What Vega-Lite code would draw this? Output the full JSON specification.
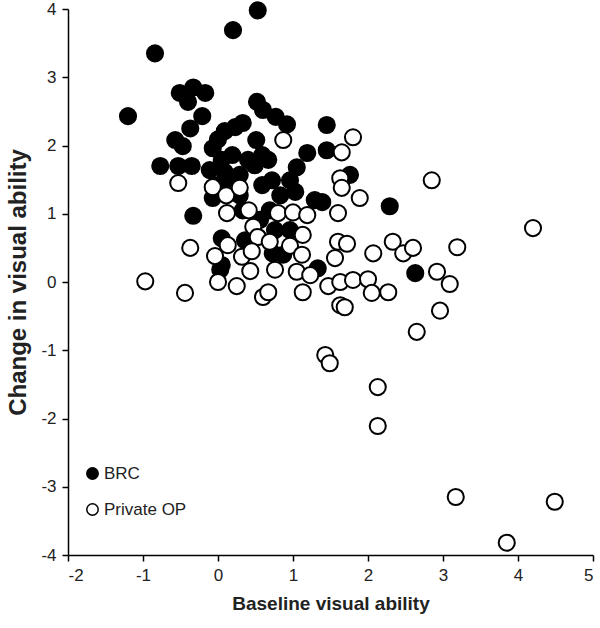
{
  "$schema": "https://vega.github.io/schema/vega-lite/v6.json",
  "width": 525,
  "height": 546,
  "autosize": {"type": "none"},
  "padding": {"left": 68, "top": 9, "right": 7, "bottom": 73},
  "background": "white",
  "config": {
    "view": {"stroke": null},
    "font": "Liberation Sans",
    "axis": {
      "grid": false,
      "domainColor": "black",
      "domainWidth": 1.5,
      "tickColor": "black",
      "tickWidth": 1.5,
      "tickSize": 6,
      "labelFont": "Liberation Sans",
      "labelFontSize": 17,
      "labelColor": "#222",
      "labelPadding": 6,
      "labelExpr": "'' + datum.value",
      "titleFont": "Liberation Sans",
      "titleFontWeight": "bold",
      "titleColor": "#222"
    }
  },
  "data": {
    "values": [
      {"x": 0.53, "y": 3.98, "g": "BRC"},
      {"x": 0.20, "y": 3.69, "g": "BRC"},
      {"x": -0.84, "y": 3.35, "g": "BRC"},
      {"x": -1.20, "y": 2.43, "g": "BRC"},
      {"x": -0.51, "y": 2.77, "g": "BRC"},
      {"x": -0.33, "y": 2.85, "g": "BRC"},
      {"x": -0.17, "y": 2.77, "g": "BRC"},
      {"x": -0.40, "y": 2.64, "g": "BRC"},
      {"x": -0.21, "y": 2.43, "g": "BRC"},
      {"x": -0.37, "y": 2.25, "g": "BRC"},
      {"x": -0.57, "y": 2.08, "g": "BRC"},
      {"x": -0.47, "y": 1.99, "g": "BRC"},
      {"x": -0.77, "y": 1.70, "g": "BRC"},
      {"x": -0.53, "y": 1.70, "g": "BRC"},
      {"x": -0.35, "y": 1.70, "g": "BRC"},
      {"x": -0.33, "y": 0.97, "g": "BRC"},
      {"x": 0.52, "y": 2.64, "g": "BRC"},
      {"x": 0.60, "y": 2.52, "g": "BRC"},
      {"x": 0.77, "y": 2.42, "g": "BRC"},
      {"x": 0.92, "y": 2.31, "g": "BRC"},
      {"x": 0.33, "y": 2.33, "g": "BRC"},
      {"x": 0.23, "y": 2.27, "g": "BRC"},
      {"x": 0.09, "y": 2.21, "g": "BRC"},
      {"x": 0.00, "y": 2.09, "g": "BRC"},
      {"x": -0.07, "y": 1.96, "g": "BRC"},
      {"x": 0.51, "y": 2.08, "g": "BRC"},
      {"x": 1.45, "y": 2.30, "g": "BRC"},
      {"x": 1.45, "y": 1.93, "g": "BRC"},
      {"x": 1.19, "y": 1.89, "g": "BRC"},
      {"x": 1.05, "y": 1.68, "g": "BRC"},
      {"x": 0.96, "y": 1.49, "g": "BRC"},
      {"x": 1.76, "y": 1.57, "g": "BRC"},
      {"x": 0.19, "y": 1.86, "g": "BRC"},
      {"x": 0.05, "y": 1.79, "g": "BRC"},
      {"x": 0.40, "y": 1.79, "g": "BRC"},
      {"x": 0.59, "y": 1.86, "g": "BRC"},
      {"x": 0.67, "y": 1.79, "g": "BRC"},
      {"x": -0.11, "y": 1.64, "g": "BRC"},
      {"x": 0.09, "y": 1.61, "g": "BRC"},
      {"x": 0.29, "y": 1.57, "g": "BRC"},
      {"x": 0.49, "y": 1.71, "g": "BRC"},
      {"x": 0.00, "y": 1.42, "g": "BRC"},
      {"x": 0.16, "y": 1.42, "g": "BRC"},
      {"x": -0.07, "y": 1.23, "g": "BRC"},
      {"x": 0.29, "y": 1.27, "g": "BRC"},
      {"x": 0.59, "y": 1.42, "g": "BRC"},
      {"x": 0.72, "y": 1.49, "g": "BRC"},
      {"x": 0.83, "y": 1.27, "g": "BRC"},
      {"x": 1.03, "y": 1.32, "g": "BRC"},
      {"x": 0.33, "y": 1.05, "g": "BRC"},
      {"x": 0.56, "y": 0.91, "g": "BRC"},
      {"x": 0.69, "y": 1.05, "g": "BRC"},
      {"x": 0.05, "y": 0.64, "g": "BRC"},
      {"x": 0.36, "y": 0.61, "g": "BRC"},
      {"x": 0.53, "y": 0.66, "g": "BRC"},
      {"x": 0.76, "y": 0.76, "g": "BRC"},
      {"x": 0.96, "y": 0.76, "g": "BRC"},
      {"x": 0.03, "y": 0.18, "g": "BRC"},
      {"x": 0.05, "y": 0.25, "g": "BRC"},
      {"x": 0.73, "y": 0.42, "g": "BRC"},
      {"x": 0.87, "y": 0.40, "g": "BRC"},
      {"x": 1.33, "y": 0.20, "g": "BRC"},
      {"x": 1.29, "y": 1.20, "g": "BRC"},
      {"x": 1.39, "y": 1.17, "g": "BRC"},
      {"x": 2.29, "y": 1.11, "g": "BRC"},
      {"x": 2.63, "y": 0.13, "g": "BRC"},
      {"x": -0.97, "y": 0.01, "g": "Private OP"},
      {"x": -0.44, "y": -0.16, "g": "Private OP"},
      {"x": -0.37, "y": 0.50, "g": "Private OP"},
      {"x": -0.53, "y": 1.45, "g": "Private OP"},
      {"x": -0.07, "y": 1.39, "g": "Private OP"},
      {"x": 0.11, "y": 1.27, "g": "Private OP"},
      {"x": 0.29, "y": 1.38, "g": "Private OP"},
      {"x": 0.12, "y": 1.01, "g": "Private OP"},
      {"x": 0.41, "y": 1.05, "g": "Private OP"},
      {"x": 0.80, "y": 1.01, "g": "Private OP"},
      {"x": 1.00, "y": 1.02, "g": "Private OP"},
      {"x": 1.19, "y": 0.98, "g": "Private OP"},
      {"x": 1.60, "y": 1.01, "g": "Private OP"},
      {"x": 0.87, "y": 2.08, "g": "Private OP"},
      {"x": 1.80, "y": 2.12, "g": "Private OP"},
      {"x": 1.65, "y": 1.90, "g": "Private OP"},
      {"x": 1.63, "y": 1.52, "g": "Private OP"},
      {"x": 1.65, "y": 1.38, "g": "Private OP"},
      {"x": 1.89, "y": 1.23, "g": "Private OP"},
      {"x": 2.85, "y": 1.49, "g": "Private OP"},
      {"x": 4.20, "y": 0.79, "g": "Private OP"},
      {"x": 0.47, "y": 0.81, "g": "Private OP"},
      {"x": 0.53, "y": 0.66, "g": "Private OP"},
      {"x": 0.69, "y": 0.59, "g": "Private OP"},
      {"x": 0.13, "y": 0.54, "g": "Private OP"},
      {"x": -0.04, "y": 0.38, "g": "Private OP"},
      {"x": 0.32, "y": 0.37, "g": "Private OP"},
      {"x": 0.45, "y": 0.45, "g": "Private OP"},
      {"x": 0.96, "y": 0.53, "g": "Private OP"},
      {"x": 1.13, "y": 0.69, "g": "Private OP"},
      {"x": 1.12, "y": 0.40, "g": "Private OP"},
      {"x": 1.60, "y": 0.59, "g": "Private OP"},
      {"x": 1.72, "y": 0.56, "g": "Private OP"},
      {"x": 1.56, "y": 0.35, "g": "Private OP"},
      {"x": 2.07, "y": 0.42, "g": "Private OP"},
      {"x": 2.33, "y": 0.59, "g": "Private OP"},
      {"x": 2.47, "y": 0.42, "g": "Private OP"},
      {"x": 2.60, "y": 0.50, "g": "Private OP"},
      {"x": 3.19, "y": 0.51, "g": "Private OP"},
      {"x": 0.43, "y": 0.16, "g": "Private OP"},
      {"x": 0.76, "y": 0.18, "g": "Private OP"},
      {"x": 1.05, "y": 0.15, "g": "Private OP"},
      {"x": 1.23, "y": 0.10, "g": "Private OP"},
      {"x": 0.00, "y": 0.00, "g": "Private OP"},
      {"x": 0.25, "y": -0.06, "g": "Private OP"},
      {"x": 0.60, "y": -0.22, "g": "Private OP"},
      {"x": 0.67, "y": -0.15, "g": "Private OP"},
      {"x": 1.13, "y": -0.15, "g": "Private OP"},
      {"x": 1.47, "y": -0.06, "g": "Private OP"},
      {"x": 1.63, "y": 0.00, "g": "Private OP"},
      {"x": 1.80, "y": 0.03, "g": "Private OP"},
      {"x": 2.00, "y": 0.04, "g": "Private OP"},
      {"x": 2.05, "y": -0.16, "g": "Private OP"},
      {"x": 2.27, "y": -0.15, "g": "Private OP"},
      {"x": 1.63, "y": -0.34, "g": "Private OP"},
      {"x": 1.69, "y": -0.37, "g": "Private OP"},
      {"x": 2.92, "y": 0.15, "g": "Private OP"},
      {"x": 3.09, "y": -0.03, "g": "Private OP"},
      {"x": 2.96, "y": -0.42, "g": "Private OP"},
      {"x": 2.65, "y": -0.73, "g": "Private OP"},
      {"x": 1.43, "y": -1.07, "g": "Private OP"},
      {"x": 1.49, "y": -1.19, "g": "Private OP"},
      {"x": 2.13, "y": -1.54, "g": "Private OP"},
      {"x": 2.13, "y": -2.11, "g": "Private OP"},
      {"x": 3.17, "y": -3.15, "g": "Private OP"},
      {"x": 4.49, "y": -3.22, "g": "Private OP"},
      {"x": 3.85, "y": -3.82, "g": "Private OP"}
    ]
  },
  "mark": {"type": "point", "shape": "circle", "filled": true, "size": 260, "stroke": "black", "strokeWidth": 2, "opacity": 1},
  "encoding": {
    "x": {
      "field": "x", "type": "quantitative",
      "scale": {"domain": [-2, 5], "nice": false, "zero": false},
      "axis": {"title": "Baseline visual ability", "titleFontSize": 19, "values": [-2, -1, 0, 1, 2, 3, 4, 5], "titlePadding": 11}
    },
    "y": {
      "field": "y", "type": "quantitative",
      "scale": {"domain": [-4, 4], "nice": false, "zero": false},
      "axis": {"title": "Change in visual ability", "titleFontSize": 24, "values": [-4, -3, -2, -1, 0, 1, 2, 3, 4], "titlePadding": 10}
    },
    "fill": {
      "field": "g", "type": "nominal",
      "scale": {"domain": ["BRC", "Private OP"], "range": ["black", "white"]},
      "legend": {
        "title": null,
        "orient": "none",
        "legendX": 16,
        "legendY": 456,
        "symbolType": "circle",
        "symbolSize": 130,
        "symbolStrokeColor": "black",
        "symbolStrokeWidth": 1.5,
        "labelFontSize": 17,
        "labelFont": "Liberation Sans",
        "labelColor": "#222",
        "labelOffset": 3,
        "rowPadding": 17,
        "padding": 0
      }
    }
  }
}
